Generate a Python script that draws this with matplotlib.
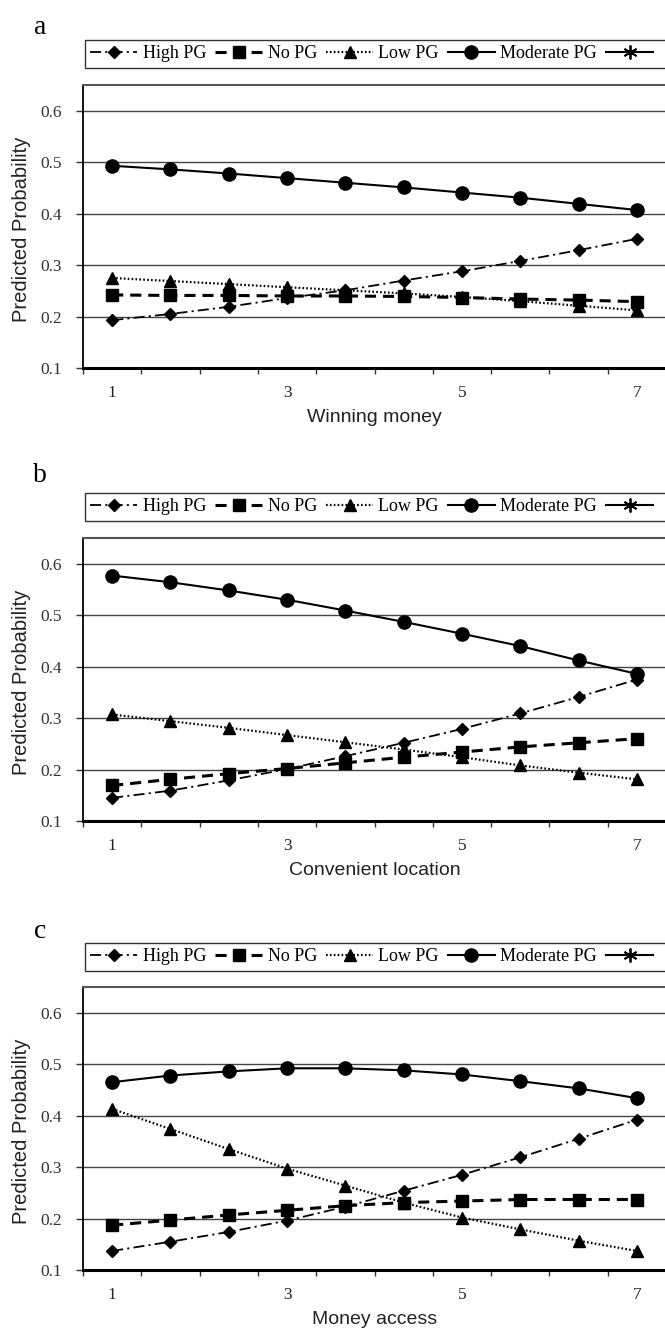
import numpy as np
import matplotlib.pyplot as plt
from matplotlib.lines import Line2D

plt.rcParams['lines.scale_dashes'] = False

# category positions on the 1..7 scale (10 evaluation points)
x_levels = [1, 1.667, 2.333, 3, 3.667, 4.333, 5, 5.667, 6.333, 7]
x_ticks = [1, 3, 5, 7]
x_ticklabels = ['1', '3', '5', '7']
y_ticks = [0.1, 0.2, 0.3, 0.4, 0.5, 0.6]

panel_letters = ['a', 'b', 'c']
x_titles = ['Winning money', 'Convenient location', 'Money access']
series_names = ['High PG', 'No PG', 'Low PG', 'Moderate PG']

# panel a: winning money
high_a = [0.193, 0.205, 0.219, 0.236, 0.251, 0.270, 0.288, 0.308, 0.329, 0.351]
nopg_a = [0.242, 0.241, 0.241, 0.240, 0.240, 0.239, 0.237, 0.234, 0.232, 0.229]
low_a = [0.275, 0.269, 0.263, 0.257, 0.251, 0.245, 0.238, 0.230, 0.221, 0.212]
mod_a = [0.493, 0.486, 0.478, 0.469, 0.460, 0.451, 0.441, 0.431, 0.419, 0.407]

# panel b: convenient location
high_b = [0.145, 0.159, 0.179, 0.201, 0.226, 0.252, 0.279, 0.309, 0.341, 0.375]
nopg_b = [0.169, 0.181, 0.192, 0.202, 0.213, 0.224, 0.234, 0.244, 0.252, 0.260]
low_b = [0.307, 0.294, 0.281, 0.267, 0.253, 0.239, 0.224, 0.208, 0.194, 0.181]
mod_b = [0.577, 0.564, 0.548, 0.530, 0.509, 0.487, 0.464, 0.440, 0.412, 0.386]

# panel c: money access
high_c = [0.137, 0.155, 0.174, 0.196, 0.223, 0.254, 0.285, 0.319, 0.355, 0.392]
nopg_c = [0.187, 0.197, 0.207, 0.216, 0.225, 0.231, 0.234, 0.237, 0.237, 0.237]
low_c = [0.413, 0.374, 0.335, 0.297, 0.264, 0.231, 0.202, 0.179, 0.157, 0.137]
mod_c = [0.465, 0.478, 0.486, 0.492, 0.492, 0.488, 0.480, 0.467, 0.453, 0.434]

panels = [
    [high_a, nopg_a, low_a, mod_a],
    [high_b, nopg_b, low_b, mod_b],
    [high_c, nopg_c, low_c, mod_c],
]

styles = [
    dict(marker='D', ms=6.5, ls=(0, (8, 3, 1.5, 3)), lw=1.3),
    dict(marker='s', ms=8.5, ls=(0, (8, 5)), lw=2.2),
    dict(marker='^', ms=8.5, ls=(0, (1.2, 1.6)), lw=1.6),
    dict(marker='o', ms=9.5, ls='-', lw=1.5),
]

serif = 'Liberation Serif'
sans = 'Liberation Sans'

W, H = 665, 1330
fig = plt.figure(figsize=(W / 100, H / 100), dpi=100)

# pixel layout of each panel: (axes top, axes bottom, legend top, letter y)
layout = [(85, 368, 40, 27), (538, 821, 493, 476), (987, 1270, 943, 931)]
ax_left, ax_right = 83, 666

mid = [(x_levels[i] + x_levels[i + 1]) / 2 for i in range(len(x_levels) - 1)]
half = (x_levels[1] - x_levels[0]) / 2
xmin, xmax = x_levels[0] - half, x_levels[-1] + half

for p, data in enumerate(panels):
    top, bottom, leg_top, let_y = layout[p]
    ax = fig.add_axes([ax_left / W, 1 - bottom / H,
                       (ax_right - ax_left) / W, (bottom - top) / H])
    handles = []
    for vals, st in zip(data, styles):
        h, = ax.plot(x_levels, vals, color='black', marker=st['marker'],
                     markersize=st['ms'], linestyle=st['ls'], linewidth=st['lw'],
                     markeredgecolor='black', markerfacecolor='black', clip_on=False)
        handles.append(h)
    extra = Line2D([], [], color='black', lw=1.5, marker=(6, 2, 0), ms=10,
                   markeredgewidth=1.3)
    handles.append(extra)

    ax.set_xlim(xmin, xmax)
    ax.set_ylim(0.1, 0.65)
    ax.set_yticks(y_ticks)
    ax.set_yticklabels(['%.1f' % v for v in y_ticks], family=serif,
                       fontsize=12.5, color='#333333')
    ax.set_xticks(x_ticks)
    ax.set_xticklabels(x_ticklabels, family=serif, fontsize=12.5, color='#222222')
    ax.set_xticks([xmin] + mid + [xmax], minor=True)
    ax.tick_params(axis='x', which='major', length=0, pad=12)
    ax.tick_params(axis='x', which='minor', length=4, width=1, color='#333333',
                   direction='out')
    ax.tick_params(axis='y', length=5, width=1, pad=10, color='#333333')
    ax.grid(axis='y', color='#444444', linewidth=1)
    ax.set_axisbelow(True)
    for side in ['top', 'right']:
        ax.spines[side].set_color('#555555')
        ax.spines[side].set_linewidth(1.5)
    ax.spines['left'].set_linewidth(1.3)
    ax.spines['bottom'].set_linewidth(2.2)

    ax.set_ylabel('Predicted Probability', family=sans, fontsize=14.5,
                  color='#222222')
    ax.yaxis.set_label_coords(-52 / (ax_right - ax_left), 0.49)
    ax.set_xlabel(x_titles[p], family=sans, fontsize=14, color='#222222')
    ax.xaxis.set_label_coords(0.5, -41 / (bottom - top))

    fig.legend(handles, series_names + ['      '], ncol=5, loc='upper left',
               bbox_to_anchor=(85 / W, 1 - leg_top / H),
               bbox_transform=fig.transFigure, frameon=True, fancybox=False,
               edgecolor='#333333', framealpha=1, borderaxespad=0,
               prop={'family': serif, 'size': 13}, handlelength=2.6,
               handletextpad=0.3, columnspacing=0.5, borderpad=0.3)

    fig.text(40 / W, 1 - let_y / H, panel_letters[p], family=serif,
             fontsize=20, ha='center', va='center')

fig.savefig('out.png', dpi=100)
